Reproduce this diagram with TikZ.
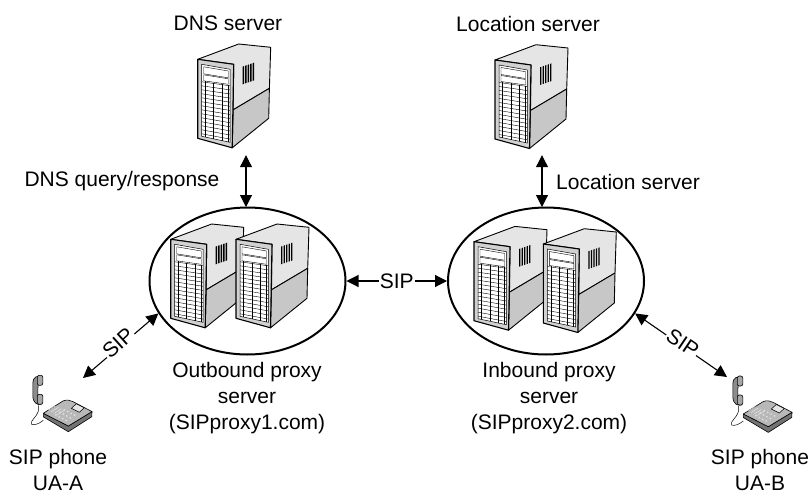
\documentclass[tikz,border=0pt]{standalone}
\usepackage{fontspec}
\setmainfont{Liberation Sans}
\usetikzlibrary{arrows.meta, calc, shapes.geometric}

% Server tower, origin at the top left corner of its front
\tikzset{
  pics/tower/.style={code={
    \draw[line width=0.9, line join=round, fill=white!90!black] (0,0) -- (41,-15.3) -- (73,-12) -- (71.7,29) -- (35.5,50.5) -- (36,5) -- cycle;
    \draw[line width=0.9, line join=round, fill=white!78!black] (35.5,50.5) -- (71.7,29) -- (71,59) -- (34.5,88.5) -- cycle;
    \draw[line width=1.1, line join=round, fill=white!82!black] (0,0) -- (36,5) -- (34.5,88.5) -- (0,79) -- cycle;
    \draw[line width=0.5, fill=white] (4,5) -- (32.3,10) -- (32.3,83) -- (4,77) -- cycle;
    % Drive bays
    \draw[line width=0.4] (6,7.5) -- (30.5,11.7) -- (30.5,18.5) -- (6,14.5) -- cycle;
    \draw[line width=0.4] (6,15.5) -- (30.5,19.5) -- (30.5,25) -- (6,21.5) -- cycle;
    \foreach \i in {0,...,13} {
      \draw[line width=0.4] (4,{22.5+\i*4}) -- (32.3,{26.5+\i*4.1});
    }
    \foreach \u in {0.12,0.42,0.72,0.92} {
      \draw[line width=0.4] ({4+28.3*\u},{21.5+4.4*\u}) -- ({4+28.3*\u},{77+6*\u});
    }
    % Vent
    \foreach \v in {0,...,4} {
      \fill ({45+\v*2.5},{7.3-\v*0.86}) -- ++(1.4,-0.5) -- ++(0,17.7) -- ++(-1.4,0.5) -- cycle;
    }
  }},
  pics/deskphone/.style={code={
    % Cord
    \draw[line width=0.5] (0,7) .. controls (-5,11) and (-9,12) .. (-11.7,11) .. controls (-14,8) and (-6,3) .. (-5,-2) -- (-5,-8);
    % Handset
    \draw[line width=0.6, fill=white!55!black, line join=round] (-2,-36) .. controls (-6,-38) and (-10,-37) .. (-10.5,-30) -- (-10.5,-17) .. controls (-10,-10) and (-6,-8) .. (-2,-9) -- (-4,-14) .. controls (-6,-16) and (-6,-29) .. (-4,-31) -- cycle;
    \draw[line width=0.6, fill=white!65!black, rounded corners=2] (-6,-38) rectangle (-0.5,-28);
    \draw[line width=0.6, fill=white!65!black, rounded corners=2] (-6,-19) rectangle (-0.5,-9);
    % Base
    \draw[line width=0.6, line join=round, fill=white!45!black] (0,0) -- (25,12.7) -- (48.7,-1.7) -- (48.5,3.4) -- (25,18.4) -- (0,3.5) -- cycle;
    \draw[line width=0.6, line join=round, fill=white!72!black] (0,0) -- (20,-12.5) .. controls (24,-14) and (27,-13) .. (30,-11.5) -- (48.7,-1.7) -- (25,12.7) -- cycle;
    \draw[line width=0.5, fill=white!90!black] (33,-9.5) -- (41,-5.5) -- (36,-1) -- (28,-5) -- cycle;
    \foreach \k in {0,...,3} {
      \draw[line width=0.4, white!95!black] ({12+\k*3},{-7.5+\k*1.5}) -- ++(-7,4.5);
    }
    \foreach \a in {0,1,2,3} \foreach \b in {0,1,2} {
      \fill[white!88!black] ({21+\a*3.4-\b*4.2},{-3.5+\a*1.8+\b*2.6}) circle (1);
    }
  }}
}

\begin{document}
\begin{tikzpicture}[x=1pt, y=-1pt,
    biarrow/.style={{Triangle[length=12pt,width=12pt]}-{Triangle[length=12pt,width=12pt]}, line width=1.1},
    lbl/.style={font=\fontsize{21}{26}\selectfont, align=center, inner sep=1pt},
    proxyring/.style={draw, ellipse, line width=2, minimum width=196pt, minimum height=147pt, inner sep=0pt},
    slot/.style={minimum width=74pt, minimum height=110pt, inner sep=0pt}]

  \useasboundingbox (0,0) rectangle (811,495);

  % Proxy ellipses
  \node[proxyring] (outbound) at (247.5,281) {};
  \node[proxyring] (inbound) at (546,281) {};

  % Servers
  \pic at (197.7,59.3) {tower};
  \pic at (495,60) {tower};
  \pic at (170.7,239.3) {tower};
  \pic at (236,239.3) {tower};
  \pic at (474,241.7) {tower};
  \pic at (543.3,244) {tower};
  \node[slot] (dns) at (246,100) {};
  \node[slot] (location) at (542,100) {};

  % Phones
  \pic at (43.3,413.3) {deskphone};
  \pic at (743.3,414) {deskphone};
  \coordinate (phoneA) at (83,378);
  \coordinate (phoneB) at (727,377);

  % Titles
  \node[lbl] (dnstitle) at (228,23) {DNS server};
  \node[lbl] (locationtitle) at (528,24) {Location server};
  \node[lbl] (dnsquery) at (122,181) {DNS query/response};
  \node[lbl] (locationlink) at (628,182) {Location server};

  % Captions
  \node[lbl, anchor=north] (outcap) at (247,361) {Outbound proxy\\server\\(SIPproxy1.com)};
  \node[lbl, anchor=north] (incap) at (549,361) {Inbound proxy\\server\\(SIPproxy2.com)};
  \node[lbl, anchor=north] (capA) at (58,448) {SIP phone\\UA-A};
  \node[lbl, anchor=north] (capB) at (760,448) {SIP phone\\UA-B};

  % Links
  \coordinate (outN) at (246,207);
  \coordinate (inN) at (542,207);
  \draw[biarrow] (dns.south) -- (outN);
  \draw[biarrow] (location.south) -- (inN);
  \draw[biarrow] (outbound.east) -- node[lbl, fill=white] (sipmid) {SIP} (inbound.west);
  \draw[biarrow] (phoneA) -- node[lbl, fill=white, rotate=42, yshift=4pt] (sipA) {SIP} (outbound.200);
  \draw[biarrow] (inbound.-20) -- node[lbl, fill=white, rotate=-34, yshift=3pt] (sipB) {SIP} (phoneB);

\end{tikzpicture}
\end{document}
